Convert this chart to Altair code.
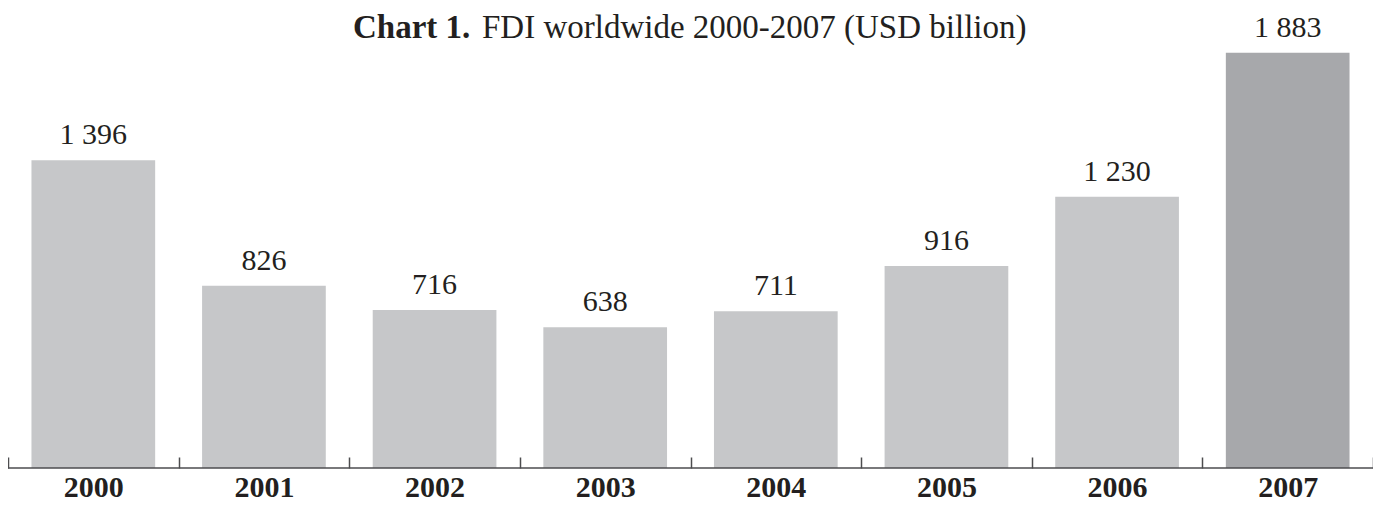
import altair as alt
import pandas as pd

years = ["2000", "2001", "2002", "2003", "2004", "2005", "2006", "2007"]
fdi = [1396, 826, 716, 638, 711, 916, 1230, 1883]
value_labels = ["1 396", "826", "716", "638", "711", "916", "1 230", "1 883"]
title_bold = ["Chart 1."]
title_rest = ["FDI worldwide 2000-2007 (USD billion)"]

FONT = "Liberation Serif"
TXT = "#231f20"
AXC = "#4d4d4f"
LIGHT = "#c6c7c9"
DARK = "#a7a8ab"

df = pd.DataFrame({"year": years, "fdi": fdi, "label": value_labels})

x = alt.X(
    "year:N",
    sort=years,
    scale=alt.Scale(paddingInner=0, paddingOuter=0),
    axis=alt.Axis(
        title=None, labelAngle=0, offset=-11, tickSize=11, tickBand="extent",
        domain=False, grid=False, tickColor=AXC, tickWidth=1.5,
        labelFont=FONT, labelFontSize=30, labelFontWeight="bold",
        labelColor=TXT, labelBaseline="alphabetic", labelPadding=28,
    ),
)
y = alt.Y("fdi:Q", scale=alt.Scale(domain=[0, 2086]), axis=None)

base = alt.Chart(df).encode(x=x, y=y)

bars = base.mark_bar(width=alt.RelativeBandSize(0.725)).encode(
    color=alt.condition(alt.datum.year == "2007", alt.value(DARK), alt.value(LIGHT))
)

labels = base.mark_text(
    dy=-16, baseline="alphabetic", font=FONT, fontSize=30, color=TXT
).encode(text="label:N")

baseline = alt.Chart(pd.DataFrame({"v": [0]})).mark_rule(
    color=AXC, strokeWidth=1.5
).encode(y=alt.Y("v:Q", scale=alt.Scale(domain=[0, 2086]), axis=None))

t1 = alt.Chart(pd.DataFrame({"t": title_bold})).mark_text(
    align="left", baseline="alphabetic", font=FONT, fontSize=33,
    fontWeight="bold", color=TXT
).encode(x=alt.value(345), y=alt.value(30), text="t:N")

t2 = alt.Chart(pd.DataFrame({"t": title_rest})).mark_text(
    align="left", baseline="alphabetic", font=FONT, fontSize=33,
    color=TXT
).encode(x=alt.value(474), y=alt.value(30), text="t:N")

chart = alt.layer(bars, labels, baseline, t1, t2).properties(
    width=1365,
    height=460,
    padding={"left": 0, "top": 0, "right": 0, "bottom": 34},
    autosize="none",
).configure_view(stroke=None)

chart.save("out.html", embed_options={"renderer": "svg", "actions": False})
